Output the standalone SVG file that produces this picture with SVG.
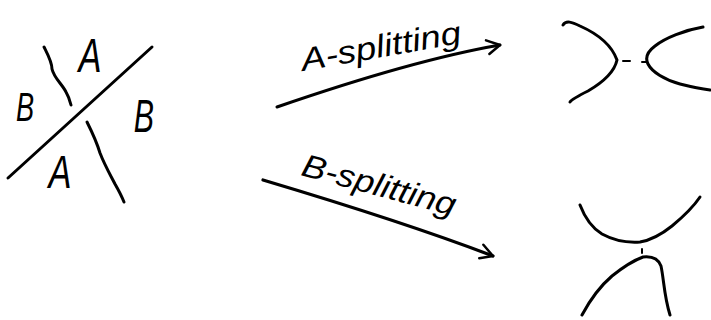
<svg xmlns="http://www.w3.org/2000/svg" width="711" height="320" viewBox="0 0 711 320">
<defs>
<style>
.s{fill:none;stroke:#000;stroke-width:3;stroke-linecap:round;stroke-linejoin:round}
.d{fill:none;stroke:#000;stroke-width:2;stroke-linecap:round}
.t{font-family:"Liberation Sans",Arial,sans-serif;fill:#000;font-style:italic}
</style>
<marker id="open" markerUnits="userSpaceOnUse" markerWidth="30" markerHeight="30" refX="0" refY="0" viewBox="-15 -15 30 30" orient="auto" overflow="visible">
<path d="M-13,-7 L0,0 L-12,7" fill="none" stroke="#000" stroke-width="2.5" stroke-linecap="round" stroke-linejoin="round"/>
</marker>
</defs>
<rect width="711" height="320" fill="#fff"/>
<g id="crossing">
<path class="s" d="M8,178 L152,47"/>
<path class="s" d="M44,47 C48,55 52,62 52,69 C54,78 62,84 66,92 C69,97 70,101 71,105"/>
<path class="s" d="M87,122 C92,132 97,143 100,153 C105,166 111,176 115,184 C119,191 122,197 124,202"/>
<text class="t" font-size="48" text-anchor="middle" transform="translate(90,72) scale(0.72,1)">A</text>
<text class="t" font-size="40" text-anchor="middle" transform="translate(25,121) scale(0.68,1)">B</text>
<text class="t" font-size="46" text-anchor="middle" transform="translate(144,132) scale(0.66,1)">B</text>
<text class="t" font-size="46" text-anchor="middle" transform="translate(60,188) scale(0.75,1)">A</text>
</g>
<g id="connectors">
<path class="s" d="M277,107 C335,87 425,58 500,45" marker-end="url(#open)"/>
<text class="t" font-size="32" textLength="162" lengthAdjust="spacingAndGlyphs" transform="translate(303,71) rotate(-10)">A-splitting</text>
<path class="s" d="M263,180 C330,200 420,228 493,256" marker-end="url(#open)" style="stroke-width:3.2"/>
<text class="t" font-size="32" textLength="158" lengthAdjust="spacingAndGlyphs" transform="translate(300,175) rotate(15)">B-splitting</text>
</g>
<g id="a-split">
<path class="s" d="M563,25 C566,20 572,22 580,26 C598,34 612,46 617,60 C614,74 600,84 588,91 C578,96 572,99 570,102"/>
<path class="d" d="M623,61 L630,61 M642,62 L647,62"/>
<path class="s" d="M703,27 C685,30 665,38 655,46 C647,52 645,58 648,64 C652,72 665,80 680,84 C692,87 702,89 710,90"/>
</g>
<g id="b-split">
<path class="s" d="M580,205 C585,218 592,228 602,234 C613,240 626,243 640,242 C652,240 662,234 672,226 C684,216 694,206 700,197"/>
<path class="d" d="M642,249 L642,253"/>
<path class="s" d="M582,315 C590,300 598,288 612,276 C622,268 632,261 643,257 C652,256 658,258 661,266 C664,280 664,296 670,315"/>
</g>
</svg>
